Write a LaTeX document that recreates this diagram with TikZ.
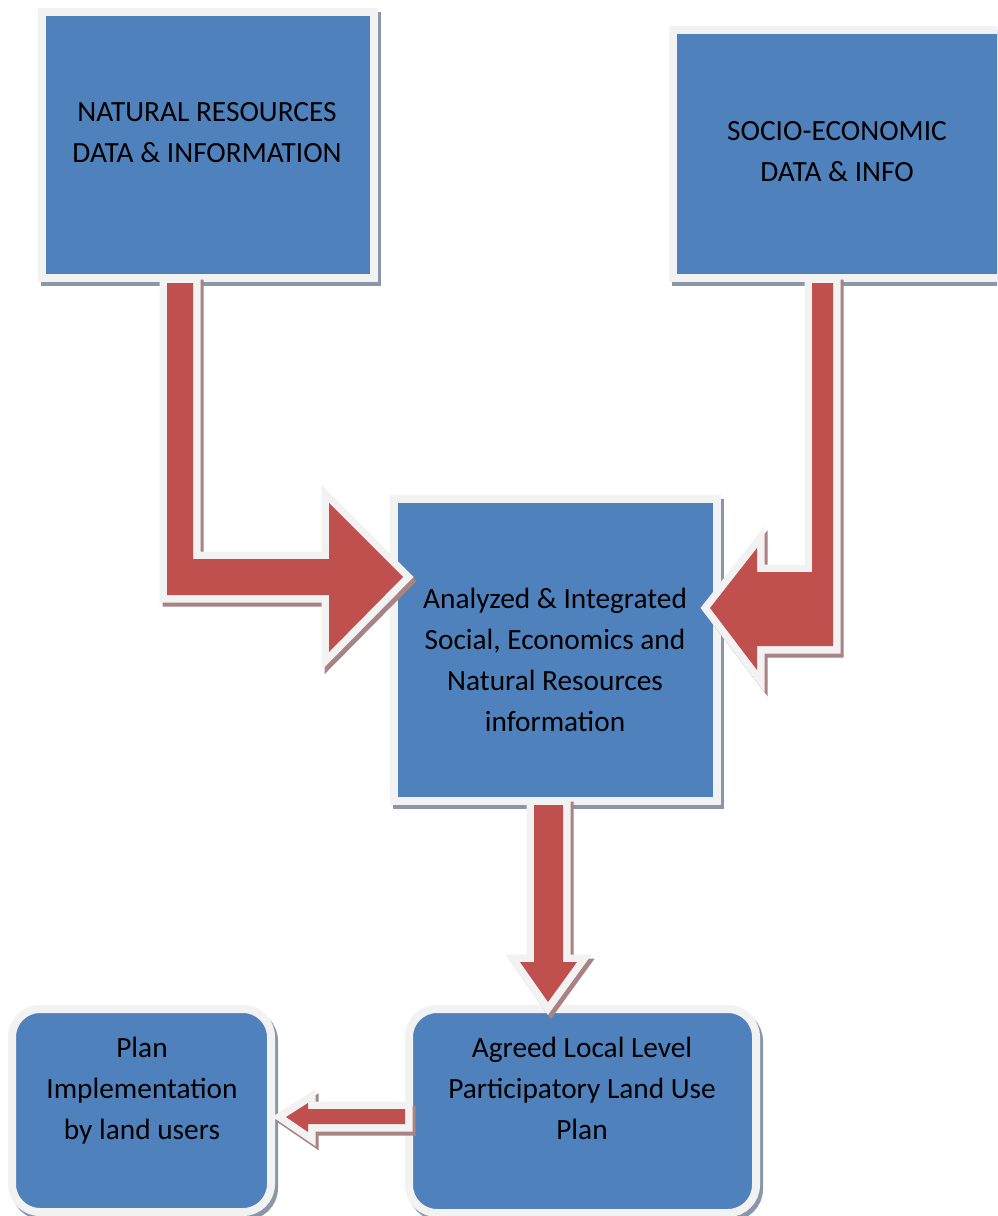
\documentclass[tikz,border=0pt]{standalone}
\usepackage{fontspec}
\setmainfont{Carlito}
\usetikzlibrary{shadows}
\definecolor{boxblue}{HTML}{4F81BD}
\definecolor{arrred}{HTML}{C0504D}
\definecolor{rimwhite}{HTML}{F2F2F2}
\definecolor{boxshade}{HTML}{8A97AB}
\definecolor{arrshade}{HTML}{A98282}
\begin{document}
\begin{tikzpicture}[x=0.75pt,y=-0.75pt,
  panel/.style={draw=rimwhite, fill=boxblue, line width=6pt, inner sep=0pt,
     drop shadow={shadow xshift=2.25pt, shadow yshift=-3pt, fill=boxshade, draw=boxshade, line width=6pt, opacity=1}},
  boxtext/.style={font=\fontsize{22}{30.75}\selectfont, align=center, anchor=base, inner sep=0pt, text=black},
  blockarrow/.style={fill=arrred,
     preaction={transform canvas={shift={(2.25pt,-3pt)}}, draw=arrshade, fill=arrshade, line width=11.25pt, line join=miter},
     preaction={draw=rimwhite, line width=11.25pt, line join=miter}},
]
\useasboundingbox (0,0) rectangle (997,1216);
\clip (0,0) rectangle (997,1216);
\fill[white] (0,0) rectangle (997,1216);

% boxes
\node[panel, minimum width=249pt, minimum height=199.5pt] (nr) at (208,145) {};
\node[panel, minimum width=255.75pt, minimum height=186pt] (se) at (843.5,154) {};
\node[panel, minimum width=242.25pt, minimum height=226.5pt] (ai) at (555.5,650) {};
\node[panel, rounded corners=21pt, minimum width=260.25pt, minimum height=153pt] (lu) at (582.5,1111) {};
\node[panel, rounded corners=21pt, minimum width=194.25pt, minimum height=152.25pt] (pi) at (141.5,1110.5) {};

% texts (anchor = baseline of last line)
\node[boxtext] (nrt) at (207,163) {NATURAL RESOURCES\\DATA \& INFORMATION};
\node[boxtext] (set) at (837,181.5) {SOCIO-ECONOMIC\\DATA \& INFO};
\node[boxtext] (ait) at (555,731) {Analyzed \& Integrated\\Social, Economics and\\Natural Resources\\information};
\node[boxtext] (lut) at (582,1139) {Agreed Local Level\\Participatory Land Use\\Plan};
\node[boxtext] (pit) at (142,1139) {Plan\\Implementation\\by land users};

% block arrows
\path[blockarrow] (167,283) -- (193,283) -- (193,559) -- (329,559) -- (329,503) -- (403,577)
   -- (329,652) -- (329,595) -- (167,595) -- cycle;
\path[blockarrow] (812,283) -- (833,283) -- (833,646) -- (757,646) -- (757,670) -- (710,608)
   -- (757,548) -- (757,572) -- (812,572) -- cycle;
\path[blockarrow] (534,805) -- (563,805) -- (563,962) -- (577,962) -- (548,1002) -- (520,962)
   -- (534,962) -- cycle;
\path[blockarrow] (405,1109) -- (308,1109) -- (308,1103) -- (286,1117) -- (308,1132)
   -- (308,1124) -- (405,1124) -- cycle;
\end{tikzpicture}
\end{document}
